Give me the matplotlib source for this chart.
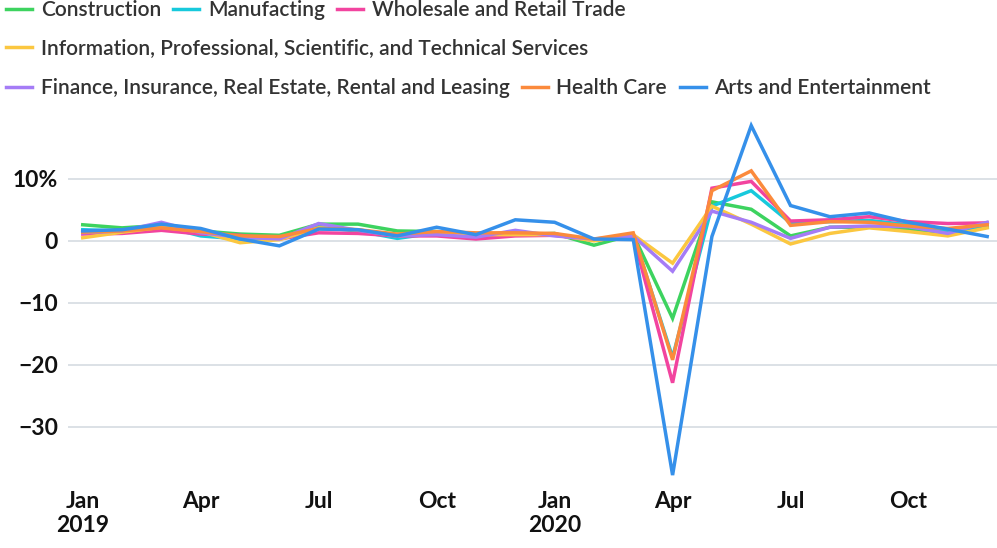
import matplotlib
matplotlib.use("Agg")
import matplotlib.pyplot as plt
from matplotlib.lines import Line2D

plt.rcParams["font.family"] = ["Lato", "DejaVu Sans"]

# data: monthly change (%), Jan 2019 - Dec 2020
months = list(range(24))
tick_pos = [0, 3, 6, 9, 12, 15, 18, 21]
tick_labels = ["Jan\n2019", "Apr", "Jul", "Oct", "Jan\n2020", "Apr", "Jul", "Oct"]

construction = [2.6, 2.1, 2.5, 1.6, 1.1, 0.9, 2.7, 2.7, 1.6, 1.5, 0.9, 1.0,
                1.2, -0.7, 1.0, -12.5, 6.3, 5.1, 0.8, 2.2, 2.2, 1.8, 1.3, 2.2]
manufacturing = [1.8, 1.6, 2.4, 0.8, 0.3, 0.3, 2.2, 1.6, 0.4, 1.3, 0.6, 1.0,
                 1.0, 0.1, 1.0, -18.8, 5.6, 8.1, 2.9, 3.1, 3.3, 2.6, 1.7, 2.4]
wholesale = [1.1, 1.2, 1.7, 1.1, 0.9, 0.3, 1.3, 1.2, 0.8, 0.8, 0.3, 0.8,
             0.9, 0.1, 0.7, -22.9, 8.5, 9.6, 3.2, 3.4, 3.9, 3.1, 2.8, 2.9]
information = [0.5, 1.4, 2.2, 1.5, -0.3, 0.2, 2.1, 1.8, 0.8, 1.3, 1.0, 1.0,
               1.0, 0.0, 1.0, -3.6, 5.6, 2.7, -0.5, 1.2, 2.1, 1.5, 0.8, 2.1]
finance = [1.3, 1.6, 3.0, 1.3, 0.6, 0.3, 2.8, 1.7, 0.8, 1.0, 0.6, 1.7,
           0.8, 0.3, 0.8, -4.9, 4.8, 3.0, 0.4, 2.2, 2.4, 2.3, 1.2, 3.0]
health = [1.4, 1.6, 2.1, 1.5, 0.8, 0.7, 2.0, 1.8, 1.1, 1.5, 1.3, 1.3,
          1.2, 0.3, 1.3, -19.2, 8.1, 11.3, 2.5, 3.1, 3.0, 2.4, 2.0, 2.6]
arts = [1.6, 1.8, 2.7, 2.0, 0.3, -0.8, 1.9, 1.8, 0.8, 2.2, 1.0, 3.4,
        3.0, 0.3, 0.2, -37.8, 0.7, 18.6, 5.7, 3.9, 4.5, 3.0, 1.9, 0.7]

names = ["Construction", "Manufacting", "Wholesale and Retail Trade",
         "Information, Professional, Scientific, and Technical Services",
         "Finance, Insurance, Real Estate, Rental and Leasing",
         "Health Care", "Arts and Entertainment"]
series = [construction, manufacturing, wholesale, information, finance, health, arts]
colors = ["#3dd35f", "#17c9dc", "#f2449f", "#fbc740", "#a57cf6", "#fb8a3c", "#3590ea"]

fig = plt.figure(figsize=(9.97, 5.48), dpi=100)
ax = fig.add_axes([0.068, 0.124, 0.932, 0.666])

# draw in order so that arts sits on top
for vals, c in zip(series, colors):
    ax.plot(months, vals, color=c, lw=2.5, solid_joinstyle="miter", zorder=3)

ax.set_xlim(-0.38, 23.25)
ax.set_ylim(-38.6, 20.3)
ax.set_yticks([10, 0, -10, -20, -30])
ax.set_yticklabels(["10%", "0", "\u221210", "\u221220", "\u221230"])
ax.set_xticks(tick_pos)
ax.set_xticklabels(tick_labels, linespacing=1.15)
ax.grid(axis="y", color="#d5dbe1", lw=1.2, zorder=0)
ax.tick_params(length=0, labelsize=16.5)
ax.tick_params(axis="y", pad=7)
ax.tick_params(axis="x", pad=8)
for lab in ax.get_xticklabels() + ax.get_yticklabels():
    lab.set_fontweight("bold")
    lab.set_color("#111111")
for s in ax.spines.values():
    s.set_visible(False)

# legend, three rows
rows = [[0, 1, 2], [3], [4, 5, 6]]
row_y = [1.0 - 10 / 548, 1.0 - 48 / 548, 1.0 - 88 / 548]
for idx, y in zip(rows, row_y):
    handles = [Line2D([], [], color=colors[i], lw=2.5) for i in idx]
    leg = fig.legend(handles, [names[i] for i in idx], loc="center left",
                     bbox_to_anchor=(0.0, y), ncol=len(idx), frameon=False,
                     fontsize=15, handlelength=1.25, handletextpad=0.4,
                     columnspacing=0.6, borderaxespad=0, borderpad=0.3)
    for t in leg.get_texts():
        t.set_color("#333333")
        t.set_fontweight("semibold")

fig.savefig("out.png", dpi=100)
